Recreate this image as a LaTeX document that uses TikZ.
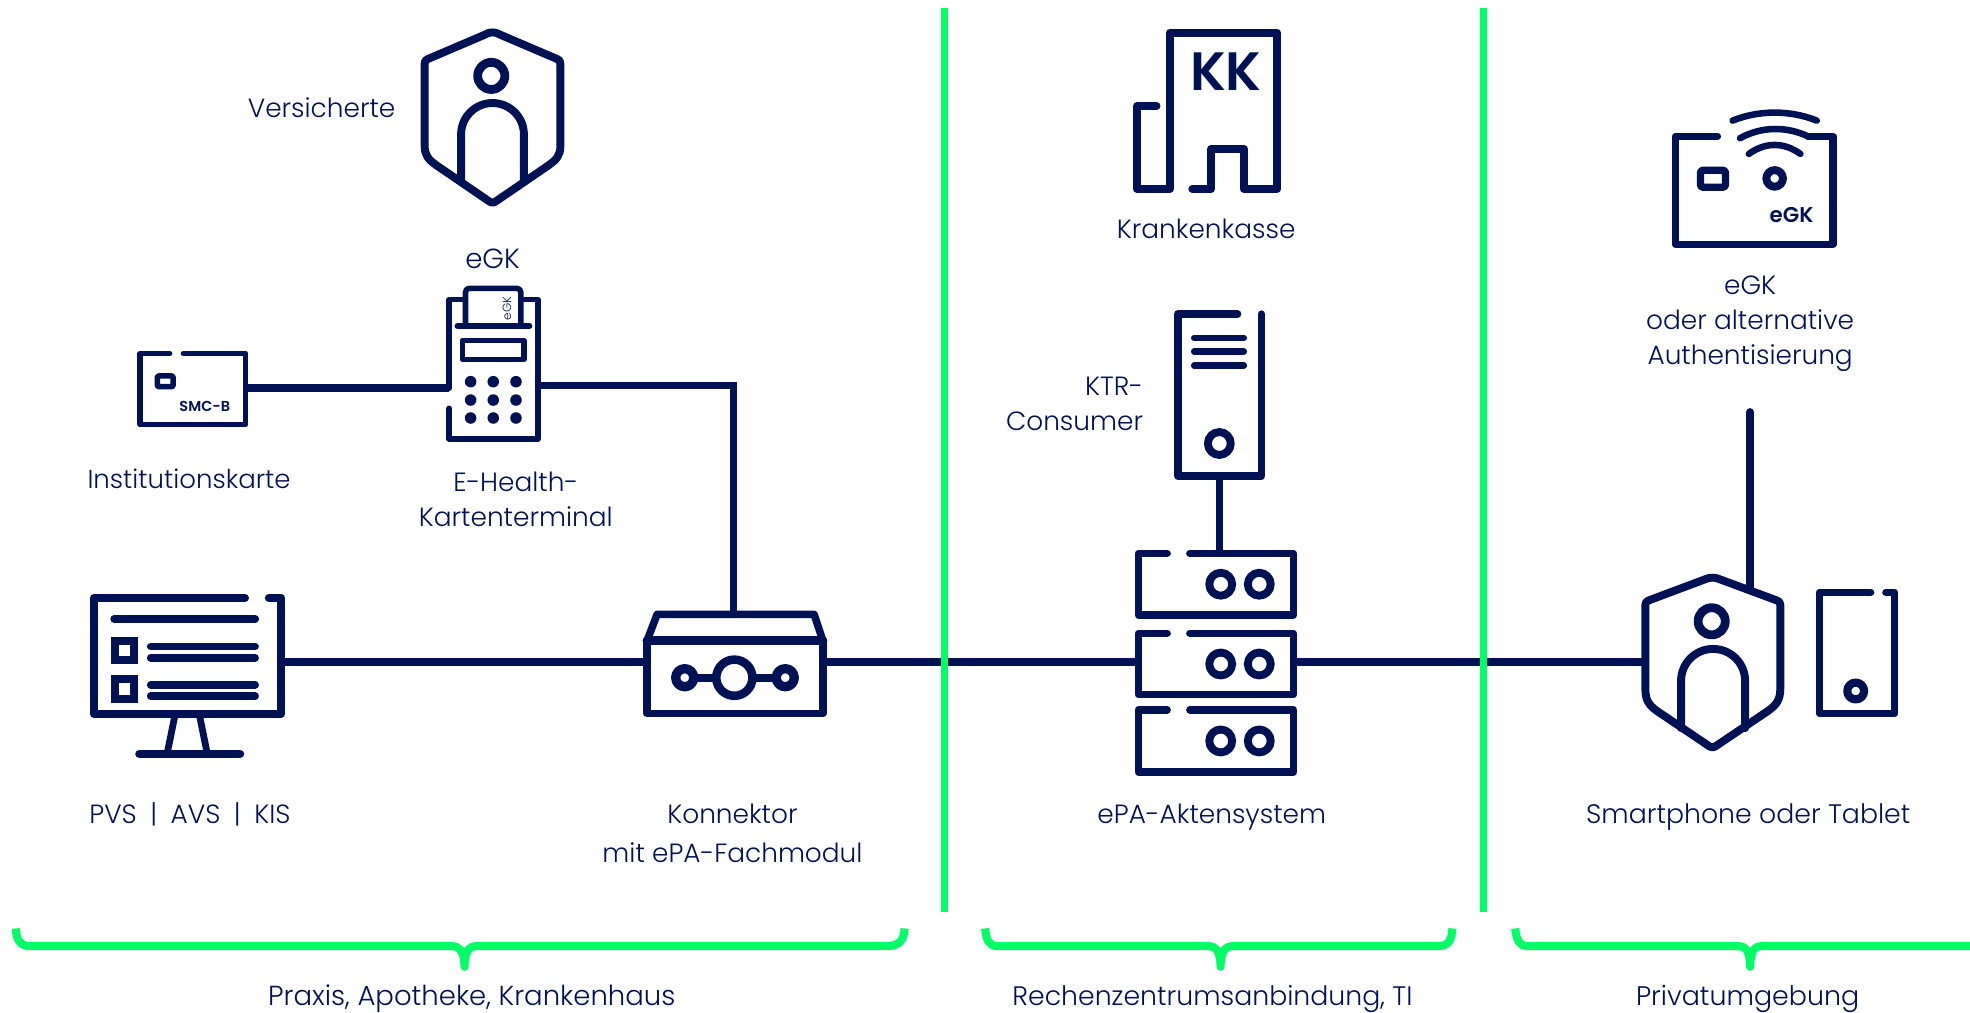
\documentclass[tikz,border=0pt]{standalone}
\usepackage{fontspec}
\setmainfont{Poppins}[UprightFont=* Light,BoldFont=* SemiBold]
\definecolor{navy}{RGB}{0,17,84}
\definecolor{lime}{RGB}{0,255,102}
\tikzset{
  ic/.style={draw=navy,line width=6.3pt,line cap=round,line join=round},
  thin ic/.style={ic,line width=4.4pt},
  link/.style={draw=navy,line width=6.2pt},
  divider/.style={draw=lime,line width=6pt},
  bracelike/.style={draw=lime,line width=6.4pt,line join=round},
  lbl/.style={text=navy,font=\fontsize{21}{28}\selectfont,inner sep=0pt,align=center},
  boldlbl/.style={text=navy,inner sep=0pt},
}
\newcommand\knobat[2]{\draw[ic] (#1,#2) circle[radius=9.1pt];}
\newcommand\rackunit[2]{%
  \draw[ic,line width=5.9pt] (929,#1) -- (906,#1) -- (906,#2) -- (1029.5,#2) -- (1029.5,#1) -- (947,#1);
  \pgfmathsetmacro\cy{(#1+#2)/2}
  \knobat{971.6}{\cy}\knobat{1002.3}{\cy}}
\begin{document}
\begin{tikzpicture}[x=1pt,y=-1pt]
\useasboundingbox (0,0) rectangle (1568,805.5);
% anchors of the connectors
\coordinate (monE) at (226,527);
\coordinate (konW) at (514,527);
\coordinate (konE) at (657,527);
\coordinate (konN) at (584,488);
\coordinate (termE) at (429,307);
\coordinate (bend) at (584,307);
\coordinate (cardE) at (195.5,308.5);
\coordinate (termW) at (357.5,308.5);
\coordinate (rackW) at (906,527);
\coordinate (rackE) at (1029.5,527);
\coordinate (rackN) at (970.5,440);
\coordinate (ktrS) at (970.5,379);
\coordinate (shieldW) at (1309.6,527);
\coordinate (shieldN) at (1393,470);
\coordinate (antenna) at (1393,328);
% connectors
\draw[link] (monE) -- (konW);
\draw[link] (konE) -- (rackW);
\draw[link] (rackE) -- (shieldW);
\draw[link,line width=6.4pt] (cardE) -- (termW);
\draw[link,line width=5.4pt] (termE) -- (bend) -- (konN);
\draw[link,line width=5.8pt] (ktrS) -- (rackN);
\draw[ic] (antenna) -- (shieldN);
% insured shield
\draw[ic] (392,25.8) .. controls (395,25.8) and (397,27) .. (399,28) -- (443.5,47) .. controls (445.2,47.8) and (446,48.6) .. (446,50.5) -- (446,116) .. controls (446,124) and (443,127) .. (436,132) -- (394,160.7) .. controls (392.8,161.5) and (391.2,161.5) .. (390,160.7) -- (348,132) .. controls (341,127) and (338,124) .. (338,116) -- (338,50.5) .. controls (338,48.6) and (338.8,47.8) .. (340.5,47) -- (385,28) .. controls (387,27) and (389,25.8) .. (392,25.8);
\draw[ic,line width=7pt] (391,60.4) circle[radius=10.8pt];
\draw[ic] (367,143) -- (367,107) .. controls (367,93.2) and (378.2,82) .. (392,82) .. controls (405.8,82) and (417,93.2) .. (417,107) -- (417,143);
% SMC-B card
\draw[thin ic] (135,281.5) -- (111.5,281.5) -- (111.5,338) -- (195.5,338) -- (195.5,281.5) -- (146,281.5);
\draw[thin ic,rounded corners=1pt] (125.2,299.2) rectangle (137.8,307.8);
\node[boldlbl,font=\bfseries\fontsize{11.5}{12}\selectfont] (smc) at (163,323.5) {SMC-B};
% terminal
\draw[thin ic] (368.7,238.5) -- (357.5,238.5) -- (357.5,309);
\draw[thin ic] (357.5,325) -- (357.5,349.5) -- (428,349.5) -- (428,238.5) -- (416.6,238.5);
\draw[thin ic,rounded corners=3pt] (370.5,259) -- (370.5,229.5) -- (414.5,229.5) -- (414.5,259);
\draw[thin ic] (364,259.5) -- (421.5,259.5);
\draw[thin ic] (368,271) rectangle (417,286);
\foreach \px in {374.6,392.6,410.7}\foreach \py in {303.8,318.4,332.7}{\fill[navy] (\px,\py) circle[radius=4.6pt];}
\node[text=navy,inner sep=0pt,rotate=90,font=\fontsize{9.5}{10}\selectfont] (cardtxt) at (403.5,245.5) {eGK};
% monitor
\draw[ic,line width=6.4pt] (195,476) -- (74.6,476) -- (74.6,568) -- (224,568) -- (224,476) -- (214,476);
\draw[ic,line width=6.4pt] (91,492.7) -- (203,492.7);
\draw[ic,line cap=butt,line join=miter,line width=6.4pt] (91.2,510) rectangle (107,525.2);
\draw[ic,line cap=butt,line join=miter,line width=6.4pt] (91.2,540.5) rectangle (107,556);
\foreach \py in {514.5,523.7,545,554.2}{\draw[ic,line width=6.2pt] (120,\py) -- (203,\py);}
\draw[ic,line width=5.4pt] (139.5,568) -- (133,600);
\draw[ic,line width=5.4pt] (158.5,568) -- (165,600);
\draw[ic,line width=6.8pt] (111,600) -- (191,600);
% connector box
\draw[ic,line width=6pt] (515,510) rectangle (655,568);
\draw[ic,line width=6pt] (515,510) -- (523,489) -- (648,489) -- (655,510);
\draw[ic,line width=7pt] (515,510) -- (655,510);
\draw[ic,line width=6.8pt] (584.5,539.4) circle[radius=14.4pt];
\draw[ic,line width=7.4pt] (545,539.4) circle[radius=7.2pt];
\draw[ic,line width=7.4pt] (625,539.4) circle[radius=7.2pt];
\draw[ic,line cap=butt] (552.2,539.4) -- (570,539.4);
\draw[ic,line cap=butt] (599,539.4) -- (617.8,539.4);
% health insurer
\draw[ic] (920.5,84.5) -- (905,84.5) -- (905,150.5) -- (931,150.5) -- (931,26) -- (1016.6,26) -- (1016.6,150.5) -- (990,150.5) -- (990,118.5) -- (964,118.5) -- (964,150.5) -- (949,150.5);
\node[boldlbl,font=\bfseries\fontsize{43}{43}\selectfont] (kk) at (975.8,57) {KK};
% KTR server
\draw[ic,line width=6pt] (1004,250) -- (1004,379) -- (937.5,379) -- (937.5,250) -- (985,250);
\foreach \py in {269,279.8,290.8}{\draw[ic,line width=5.2pt] (950.5,\py) -- (990,\py);}
\knobat{970.5}{353}
% ePA rack
\rackunit{440.5}{489.5}
\rackunit{504}{553}
\rackunit{565}{614.5}
% card with radio
\draw[ic,line width=5.8pt] (1367,108.5) -- (1333.5,108.5) -- (1333.5,194.5) -- (1459,194.5) -- (1459,108.5) -- (1439,108.5);
\draw[ic,line width=5.8pt,rounded corners=1.5pt] (1353.4,135.5) rectangle (1373.4,149);
\draw[ic] (1412.5,142) circle[radius=6.6pt];
\draw[ic,line width=5.2pt] (1379,96) .. controls (1400,87.5) and (1425,87.5) .. (1446,96);
\draw[ic,line width=5.2pt] (1385,110) .. controls (1402,100.5) and (1422,100.5) .. (1439,108.5);
\draw[ic,line width=5.2pt] (1392,122.5) .. controls (1405,113) and (1420,113) .. (1433,122.5);
\node[boldlbl,font=\bfseries\fontsize{17}{17}\selectfont] (cardegk) at (1426,171.5) {eGK};
% phone shield
\draw[ic] (1363,459.8) .. controls (1366,459.8) and (1368,460.7) .. (1370,461.5) -- (1414.5,478) .. controls (1416.2,478.7) and (1417,479.5) .. (1417,481.5) -- (1417,548) .. controls (1417,557) and (1414,561) .. (1407,566) -- (1365,594.3) .. controls (1363.8,595.1) and (1362.2,595.1) .. (1361,594.3) -- (1319,566) .. controls (1312,561) and (1309.6,557) .. (1309.6,548) -- (1309.6,481.5) .. controls (1309.6,479.5) and (1310.4,478.7) .. (1312,478) -- (1356,461.5) .. controls (1358,460.7) and (1360,459.8) .. (1363,459.8);
\draw[ic,line width=7pt] (1362.4,494.5) circle[radius=10.8pt];
\draw[ic] (1338,579.5) -- (1338,542) .. controls (1338,527.9) and (1349.4,516.5) .. (1363.5,516.5) .. controls (1377.6,516.5) and (1389,527.9) .. (1389,542) -- (1389,579.5);
% tablet
\draw[ic,line width=5.8pt] (1489,471.5) -- (1448,471.5) -- (1448,568) -- (1508,568) -- (1508,471.5) -- (1501,471.5);
\draw[ic,line width=6.5pt] (1477,550) circle[radius=6.7pt];
% labels
\node[lbl] (versicherte) at (256,86) {Versicherte};
\node[lbl,font=\fontsize{22}{28}\selectfont] (egktop) at (392,206) {eGK};
\node[lbl,font=\fontsize{20.7}{28}\selectfont] (institution) at (150.5,381) {Institutionskarte};
\node[lbl] (terminal) at (410.5,397.5) {E-Health-\\Kartenterminal};
\node[lbl,anchor=west] (pvs) at (71,648) {PVS\hspace{5pt} | \hspace{5pt}AVS\hspace{5pt} | \hspace{5pt}KIS};
\node[lbl] (konnektor) at (583,663.5) {Konnektor\\[3pt]mit ePA-Fachmodul};
\node[lbl] (krankenkasse) at (960,182) {Krankenkasse};
\node[lbl,align=right,anchor=east] (ktr) at (910,321.3) {KTR-\\Consumer};
\node[lbl] (aktensystem) at (964.5,650) {ePA-Aktensystem};
\node[lbl] (egkalt) at (1393,257.5) {eGK\\oder alternative\\Authentisierung};
\node[lbl,font=\fontsize{21.3}{28}\selectfont] (smartphone) at (1391.5,650) {Smartphone oder Tablet};
\node[lbl,font=\fontsize{21.9}{28}\selectfont] (praxis) at (375.5,795) {Praxis, Apotheke, Krankenhaus};
\node[lbl,font=\fontsize{21.3}{28}\selectfont] (rz) at (965,795) {Rechenzentrumsanbindung, TI};
\node[lbl,font=\fontsize{21.4}{28}\selectfont] (privat) at (1391,795) {Privatumgebung};
% green dividers and braces
\draw[divider] (751.8,6) -- (751.8,726);
\draw[divider] (1180.7,6) -- (1180.7,726);
\draw[bracelike] (720,739) .. controls (719.5,748) and (716,753) .. (706,753) -- (380,753) .. controls (373,753) and (370,757) .. (369.7,769.5) .. controls (369.4,757) and (366,753) .. (359,753) -- (24,753) .. controls (16,753) and (13,748) .. (12.5,739);
\draw[bracelike] (1156,739) .. controls (1155.5,748) and (1153,753) .. (1145,753) -- (982,753) .. controls (975,753) and (971.8,757) .. (971.5,769.5) .. controls (971.2,757) and (968,753) .. (961,753) -- (794,753) .. controls (787,753) and (785,748) .. (784,739);
\draw[bracelike] (1575,753) -- (1403,753) .. controls (1396,753) and (1393.3,757) .. (1393,769.5) .. controls (1392.7,757) and (1390,753) .. (1383,753) -- (1216,753) .. controls (1209,753) and (1207,748) .. (1206,739);
\end{tikzpicture}
\end{document}
